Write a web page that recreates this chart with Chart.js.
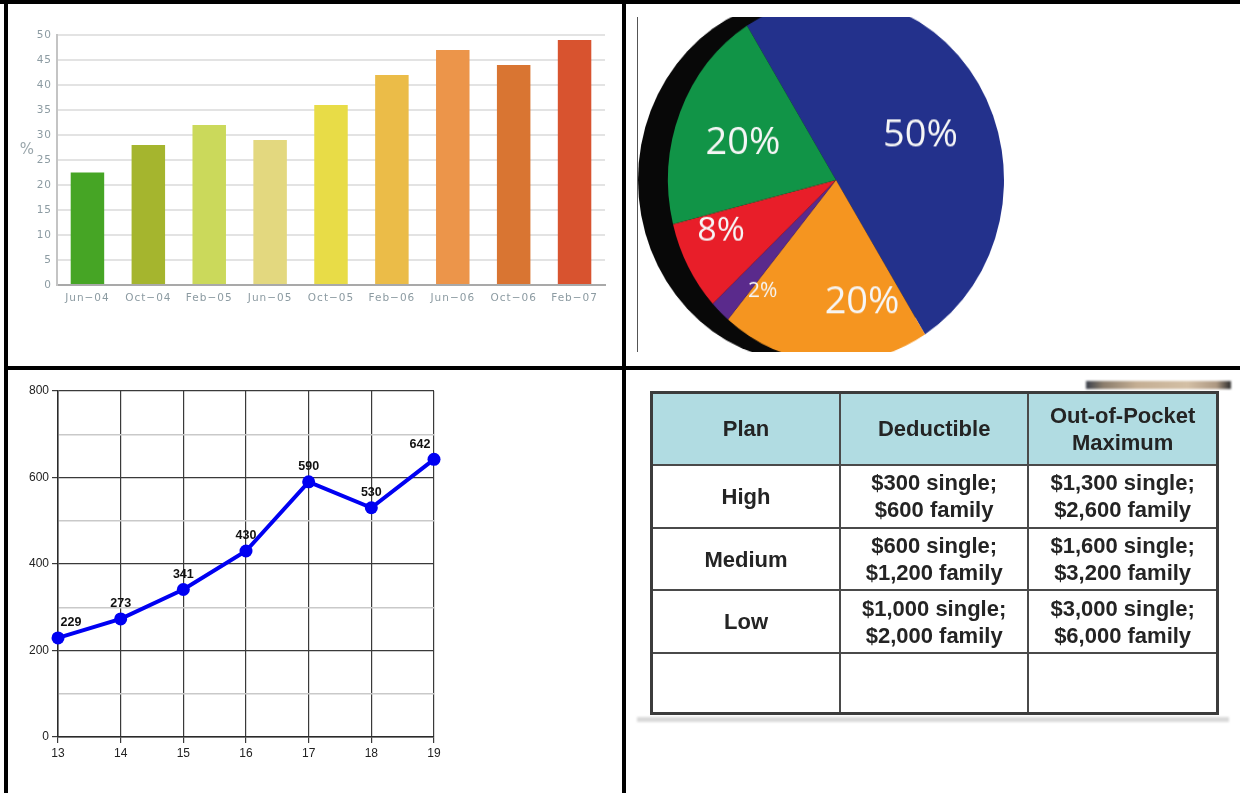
<!DOCTYPE html>
<html>
<head>
<meta charset="utf-8">
<script src="https://cdn.jsdelivr.net/npm/chart.js@4.4.1/dist/chart.umd.min.js"></script>
<style>
  html, body { margin: 0; padding: 0; background: #fff; }
  body { width: 1240px; height: 793px; position: relative; overflow: hidden; }
  .rule { position: absolute; background: #000; }
  .box { position: absolute; }
  #pieClip { position: absolute; left: 633px; top: 17px; width: 400px; height: 335px; overflow: hidden; }
  #pieChart { position: absolute; left: 0; top: -19px; transform-origin: 0 0; }
  #planTable {
    position: absolute; left: 650px; top: 391px; width: 569px; height: 324px;
    border-collapse: collapse; border: 3px solid #3c3c3c;
    font-family: "Liberation Sans", Arial, sans-serif; font-weight: bold;
    font-size: 22px; line-height: 27px; color: #242424; text-align: center;
    filter: blur(0.45px);
  }
  #planTable td, #planTable th { border: 2px solid #4a4a4a; padding: 0; vertical-align: middle; }
  #planTable th { background: #b1dce2; font-weight: bold; }
  #tableShadow { position: absolute; left: 637px; top: 717px; width: 592px; height: 5px; background: #d9d9d9; filter: blur(1px); }
  #photoEdge {
    position: absolute; left: 1086px; top: 381px; width: 145px; height: 8px;
    background: linear-gradient(to right, #3a3f4a 0%, #8b7d6c 12%, #c4ae93 35%, #d3bfa5 70%, #ad9882 90%, #2c2c2c 100%);
    filter: blur(1px);
  }
</style>
</head>
<body>

<div class="box" style="left:8px; top:4px;"><canvas id="barChart" width="612" height="360"></canvas></div>
<div style="position:absolute; left:637px; top:17px; width:1px; height:335px; background:#555;"></div>
<div id="pieClip"><canvas id="pieChart" width="372" height="336"></canvas></div>
<div class="box" style="left:8px; top:370px;"><canvas id="lineChart" width="612" height="422"></canvas></div>

<div id="photoEdge"></div>
<table id="planTable"></table>
<div id="tableShadow"></div>

<!-- panel frame -->
<div class="rule" style="left:0; top:0; width:1240px; height:4px;"></div>
<div class="rule" style="left:4px; top:0; width:4px; height:793px;"></div>
<div class="rule" style="left:622px; top:0; width:4px; height:793px;"></div>
<div class="rule" style="left:4px; top:366px; width:1236px; height:4px;"></div>

<script>
// Share of respondents by survey period
const periods = ['Jun\u221204', 'Oct\u221204', 'Feb\u221205', 'Jun\u221205', 'Oct\u221205', 'Feb\u221206', 'Jun\u221206', 'Oct\u221206', 'Feb\u221207'];
const rates = [22.5, 28, 32, 29, 36, 42, 47, 44, 49];
const barColors = ['#46a525', '#a5b52e', '#cbd95b', '#e3d87f', '#e8dc47', '#ebbc48', '#ec954a', '#d97532', '#d8532f'];

// Pie slices, clockwise from the top left
const sliceNames = ['Blue', 'Orange', 'Purple', 'Red', 'Green'];
const sliceShares = [50, 20, 2, 8, 20];
const sliceColors = ['#23318c', '#f59520', '#5a2a8c', '#e81e29', '#119447'];

// Line chart points
const ages = [13, 14, 15, 16, 17, 18, 19];
const counts = [229, 273, 341, 430, 590, 530, 642];

// Plan table
const tableHeaders = ['Plan', 'Deductible', 'Out-of-Pocket<br>Maximum'];
const planNames = ['High', 'Medium', 'Low'];
const deductibles = ['$300 single;<br>$600 family', '$600 single;<br>$1,200 family', '$1,000 single;<br>$2,000 family'];
const outOfPocket = ['$1,300 single;<br>$2,600 family', '$1,600 single;<br>$3,200 family', '$3,000 single;<br>$6,000 family'];

// ---------- bar chart ----------
const percentSign = {
    id: 'percentSign',
    beforeDraw(chart) {
        chart.ctx.letterSpacing = '1px';
    },
    afterDraw(chart) {
        const ctx = chart.ctx;
        ctx.save();
        ctx.letterSpacing = '0px';
        ctx.fillStyle = '#9aa6ab';
        ctx.font = '15px "DejaVu Sans", sans-serif';
        ctx.textAlign = 'center';
        ctx.textBaseline = 'middle';
        ctx.fillText('%', 19, 146);
        ctx.restore();
    }
};

new Chart(document.getElementById('barChart'), {
    type: 'bar',
    data: {
        labels: periods,
        datasets: [{
            data: rates,
            backgroundColor: barColors,
            borderWidth: 0,
            barPercentage: 0.55,
            categoryPercentage: 1
        }]
    },
    options: {
        responsive: false,
        animation: false,
        layout: { padding: { left: 0, right: 15, top: 31, bottom: 59 } },
        plugins: { legend: { display: false }, tooltip: { enabled: false } },
        scales: {
            x: {
                afterFit(scale) { scale.height = 20; },
                grid: { color: 'transparent', drawTicks: false },
                border: { color: '#a9a9a9', width: 2 },
                ticks: { color: '#8c9ba2', font: { family: '"DejaVu Sans", sans-serif', size: 10.5 }, padding: 7, maxRotation: 0 }
            },
            y: {
                min: 0,
                max: 50,
                afterFit(scale) { scale.width = 49; },
                grid: { color: '#e3e3e3', lineWidth: 2, drawTicks: false },
                border: { color: '#c4c4c4', width: 2 },
                ticks: { stepSize: 5, color: '#8c9ba2', font: { family: '"DejaVu Sans", sans-serif', size: 10.5 }, padding: 5 }
            }
        }
    },
    plugins: [percentSign]
});

// ---------- pie chart ----------
const pieStretch = 182 / 168;
document.getElementById('pieChart').style.transform = 'scaleY(' + pieStretch + ')';

const labelRadius = [0.56, 0.69, 0.75, 0.74, 0.59];
const labelTurn = [6, -17, -8, 6, -2];
const labelSize = [38, 38, 21, 34, 38];

const pieSide = {
    id: 'pieSide',
    beforeDatasetsDraw(chart) {
        const arc = chart.getDatasetMeta(0).data[0];
        const ctx = chart.ctx;
        ctx.save();
        ctx.fillStyle = '#080808';
        ctx.beginPath();
        ctx.arc(arc.x - 30, arc.y, arc.outerRadius, 0, Math.PI * 2);
        ctx.fill();
        ctx.restore();
    },
    afterDatasetsDraw(chart) {
        const ctx = chart.ctx;
        chart.getDatasetMeta(0).data.forEach((arc, i) => {
            const mid = (arc.startAngle + arc.endAngle) / 2 + labelTurn[i] * Math.PI / 180;
            const r = arc.outerRadius * labelRadius[i];
            ctx.save();
            ctx.translate(arc.x + Math.cos(mid) * r, arc.y + Math.sin(mid) * r);
            ctx.scale(1, 1 / pieStretch);
            ctx.fillStyle = '#f6f6f6';
            ctx.font = labelSize[i] + 'px "Open Sans", sans-serif';
            ctx.textAlign = 'center';
            ctx.textBaseline = 'middle';
            ctx.fillText(sliceShares[i] + '%', 0, 0);
            ctx.restore();
        });
    }
};

new Chart(document.getElementById('pieChart'), {
    type: 'pie',
    data: {
        labels: sliceNames,
        datasets: [{
            data: sliceShares,
            backgroundColor: sliceColors,
            borderWidth: 0
        }]
    },
    options: {
        responsive: false,
        animation: false,
        rotation: -32,
        layout: { padding: { left: 34, right: 0, top: 0, bottom: 0 } },
        plugins: { legend: { display: false }, tooltip: { enabled: false } }
    },
    plugins: [pieSide]
});

// ---------- line chart ----------
const pointValues = {
    id: 'pointValues',
    afterDatasetsDraw(chart) {
        const ctx = chart.ctx;
        const area = chart.chartArea;
        ctx.save();
        ctx.fillStyle = '#111';
        ctx.font = 'bold 12.5px "Liberation Sans", Arial, sans-serif';
        ctx.textAlign = 'center';
        ctx.textBaseline = 'middle';
        chart.getDatasetMeta(0).data.forEach((pt, i) => {
            const x = Math.min(Math.max(pt.x, area.left + 13), area.right - 14);
            ctx.fillText(counts[i], x, pt.y - 15);
        });
        ctx.restore();
    }
};

const axisFont = { family: '"Liberation Sans", Arial, sans-serif', size: 12 };

new Chart(document.getElementById('lineChart'), {
    type: 'line',
    data: {
        datasets: [{
            data: ages.map((a, i) => ({ x: a, y: counts[i] })),
            borderColor: '#0000f2',
            backgroundColor: '#0000f2',
            borderWidth: 4,
            pointRadius: 6.5,
            pointBorderWidth: 0,
            tension: 0,
            clip: false
        }]
    },
    options: {
        responsive: false,
        animation: false,
        layout: { padding: { left: 0, right: 186, top: 21, bottom: 30 } },
        plugins: { legend: { display: false }, tooltip: { enabled: false } },
        scales: {
            x: {
                type: 'linear',
                min: 13,
                max: 19,
                afterFit(scale) { scale.height = 25; },
                grid: { color: '#3a3a3a', lineWidth: 1.2, tickLength: 6, tickColor: '#3a3a3a' },
                border: { color: '#2a2a2a', width: 1.5 },
                ticks: { stepSize: 1, color: '#222', font: axisFont, padding: 3 }
            },
            y: {
                min: 0,
                max: 800,
                afterFit(scale) { scale.width = 50; },
                grid: {
                    color: c => c.tick && c.tick.value % 200 === 0 ? '#3a3a3a' : '#c9c9c9',
                    lineWidth: c => c.tick && c.tick.value % 200 === 0 ? 1.2 : 1.5,
                    tickLength: 6,
                    tickColor: c => c.tick && c.tick.value % 200 === 0 ? '#3a3a3a' : 'transparent'
                },
                border: { color: '#2a2a2a', width: 1.5 },
                ticks: {
                    stepSize: 100,
                    color: '#222',
                    font: axisFont,
                    padding: 3,
                    callback: v => v % 200 === 0 ? v : ''
                }
            }
        }
    },
    plugins: [pointValues]
});

// ---------- plan table ----------
const table = document.getElementById('planTable');
const rowHeights = [72, 63, 62, 63, 60];
const colWidths = [190, 189, 190];
let html = '<tr style="height:' + rowHeights[0] + 'px">' +
    tableHeaders.map((h, i) => '<th style="width:' + colWidths[i] + 'px">' + h + '</th>').join('') + '</tr>';
planNames.forEach((name, i) => {
    html += '<tr style="height:' + rowHeights[i + 1] + 'px"><td>' + name + '</td><td>' +
        deductibles[i] + '</td><td>' + outOfPocket[i] + '</td></tr>';
});
html += '<tr style="height:' + rowHeights[4] + 'px"><td></td><td></td><td></td></tr>';
table.innerHTML = html;
</script>
</body>
</html>
